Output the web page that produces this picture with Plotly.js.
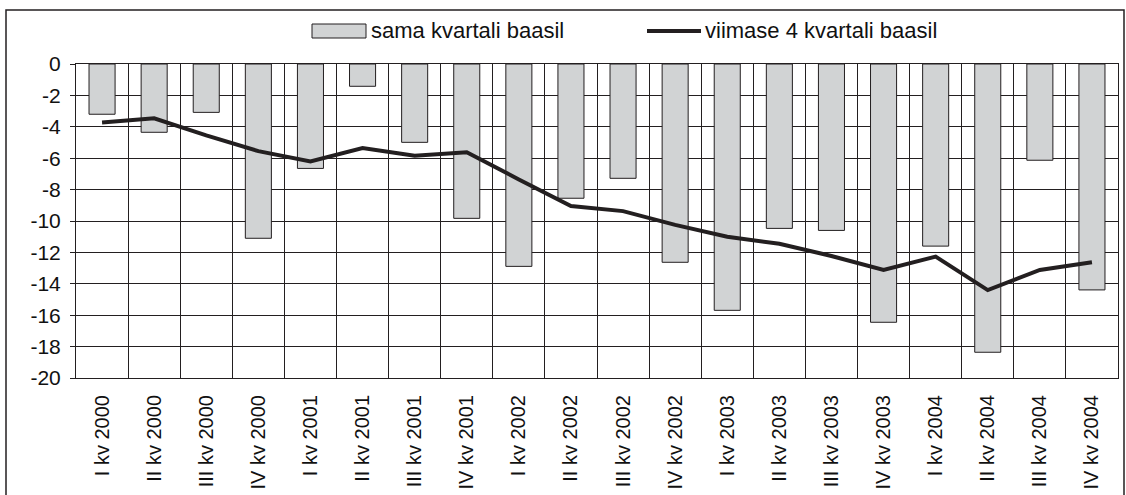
<!DOCTYPE html>
<html>
<head>
<meta charset="utf-8">
<script src="https://cdn.plot.ly/plotly-3.0.1.min.js"></script>
<style>
html,body{margin:0;padding:0;background:#fff;}
#chart{width:1126px;height:495px;}
</style>
</head>
<body>
<div id="chart"></div>
<script>
// ---- data ----
var categories = ["I kv 2000","II kv 2000","III kv 2000","IV kv 2000",
                  "I kv 2001","II kv 2001","III kv 2001","IV kv 2001",
                  "I kv 2002","II kv 2002","III kv 2002","IV kv 2002",
                  "I kv 2003","II kv 2003","III kv 2003","IV kv 2003",
                  "I kv 2004","II kv 2004","III kv 2004","IV kv 2004"];
var samaKvartali = [-3.2,-4.35,-3.08,-11.1,-6.65,-1.42,-4.99,-9.83,-12.89,-8.55,
                    -7.28,-12.63,-15.69,-10.47,-10.6,-16.45,-11.6,-18.36,-6.13,-14.39];
var viimase4 = [-3.72,-3.46,-4.55,-5.55,-6.2,-5.35,-5.85,-5.62,-7.35,-9.04,
                -9.37,-10.25,-11.0,-11.45,-12.23,-13.12,-12.27,-14.4,-13.12,-12.63];
var seriesNames = ["sama kvartali baasil","viimase 4 kvartali baasil"];
var yTickVals = [0,-2,-4,-6,-8,-10,-12,-14,-16,-18,-20];
var yTickText = ["0","-2","-4","-6","-8","-10","-12","-14","-16","-18","-20"];

// ---- layout geometry (pixels) ----
var W = 1126, H = 495;
var mL = 76, mR = 8, mT = 64, mB = 117;
var pw = W - mL - mR, ph = H - mT - mB;
function px(x){ return (x - mL) / pw; }
function py(y){ return 1 - (y - mT) / ph; }

var FONT = "Liberation Sans, Arial, Helvetica, sans-serif";
var DARK = "#231f20";
var BARFILL = "#d1d3d4";

var traces = [
  {
    type: "bar", x: categories, y: samaKvartali, name: seriesNames[0],
    width: 0.5,
    marker: {color: BARFILL, line: {color: DARK, width: 1}},
    showlegend: false, hoverinfo: "x+y"
  },
  {
    type: "scatter", mode: "lines", x: categories, y: viimase4, name: seriesNames[1],
    line: {color: DARK, width: 4},
    showlegend: false, hoverinfo: "x+y"
  }
];

var layout = {
  width: W, height: H,
  margin: {l: mL, r: mR, t: mT, b: mB, pad: 0},
  paper_bgcolor: "#fff", plot_bgcolor: "#fff",
  font: {family: FONT, color: "#111", size: 20},
  showlegend: false,
  xaxis: {
    type: "category",
    tickson: "boundaries",
    showgrid: true, gridcolor: DARK, gridwidth: 1,
    ticks: "", ticklen: 0,
    tickangle: -90,
    ticklabelstandoff: 8,
    tickfont: {family: FONT, size: 20, color: "#111"},
    showline: true, linecolor: DARK, linewidth: 1, mirror: true,
    zeroline: false, fixedrange: true
  },
  yaxis: {
    range: [-20, 0],
    tickvals: yTickVals, ticktext: yTickText,
    showgrid: true, gridcolor: DARK, gridwidth: 1,
    ticks: "outside", ticklen: 5, tickcolor: DARK, tickwidth: 1,
    ticklabelstandoff: 5,
    tickfont: {family: FONT, size: 21, color: "#111"},
    showline: true, linecolor: DARK, linewidth: 1, mirror: true,
    zeroline: false, fixedrange: true
  },
  bargap: 0.5,
  shapes: [
    // outer frame
    {type: "rect", xref: "paper", yref: "paper",
     x0: px(6), x1: px(1124), y0: py(510), y1: py(10),
     line: {color: DARK, width: 1.5}, fillcolor: "rgba(0,0,0,0)", layer: "below"},
    // legend swatch: bars
    {type: "rect", xref: "paper", yref: "paper",
     x0: px(312), x1: px(366), y0: py(38), y1: py(24),
     line: {color: DARK, width: 1}, fillcolor: BARFILL},
    // legend swatch: line
    {type: "line", xref: "paper", yref: "paper",
     x0: px(647), x1: px(701), y0: py(31), y1: py(31),
     line: {color: DARK, width: 4}}
  ],
  annotations: [
    {xref: "paper", yref: "paper", x: px(369), y: py(31), xanchor: "left", yanchor: "middle",
     text: seriesNames[0], showarrow: false, font: {family: FONT, size: 22, color: "#111"}},
    {xref: "paper", yref: "paper", x: px(703), y: py(31), xanchor: "left", yanchor: "middle",
     text: seriesNames[1], showarrow: false, font: {family: FONT, size: 22, color: "#111"}}
  ]
};

Plotly.newPlot("chart", traces, layout, {displayModeBar: false, staticPlot: true});
</script>
</body>
</html>
